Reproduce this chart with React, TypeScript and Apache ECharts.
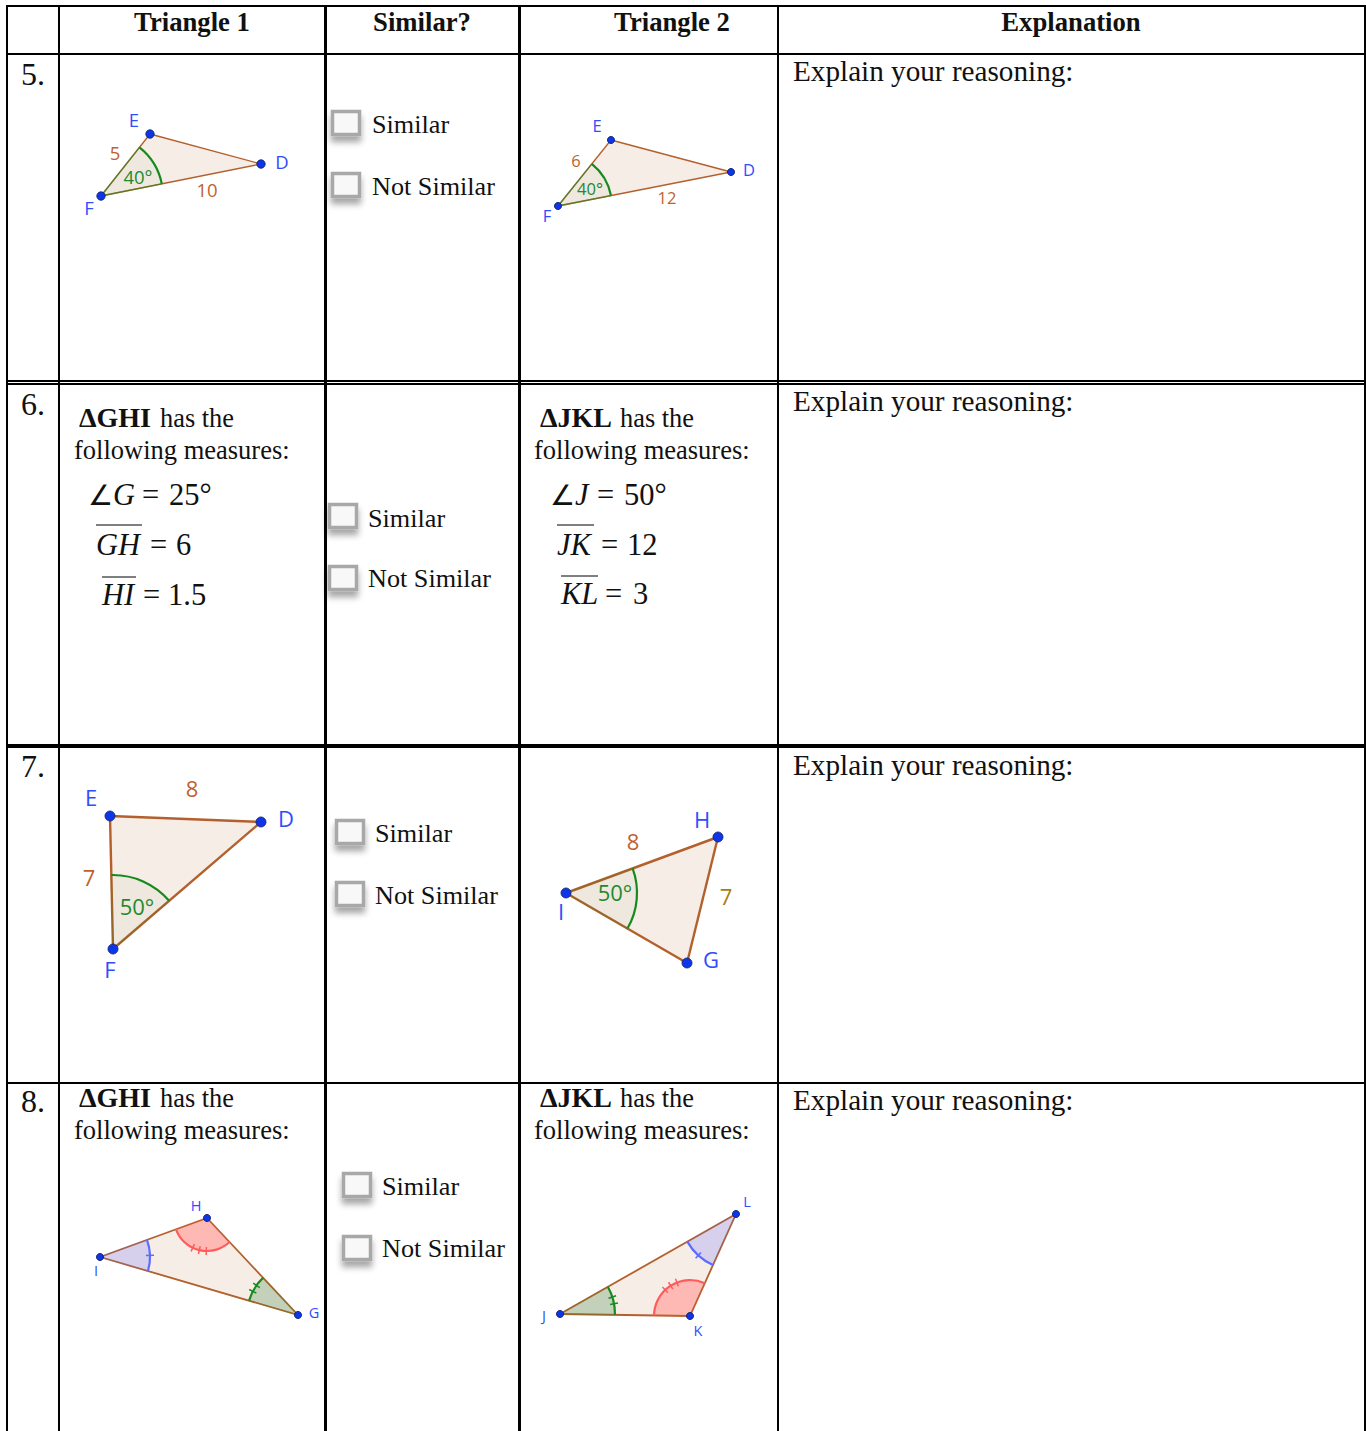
import React, { useEffect, useRef } from "react";
import * as echarts from "echarts";

// ---------- text content ----------
const headerLabels = ["Triangle 1", "Similar?", "Triangle 2", "Explanation"];
const rowNumbers = ["5.", "6.", "7.", "8."];
const explainLabel = "Explain your reasoning:";
const choiceLabels = ["Similar", "Not Similar"];
const measuresLine = "following measures:";
const hasTheLabel = "has the";
const triangleNames = ["ΔGHI", "ΔJKL"];

// ---------- table rules (page pixels used as axis values) ----------
const columnRules = [7, 59, 325.5, 519.5, 778, 1365];
const rowRules = [6, 54, 381, 384, 746, 1083];

// ---------- triangles: [name, x, y] ----------
const tri5a = { v: [[150, 134], [261, 164], [101, 196]], fan: [[2, 0, 1, 62, "plain", 0]], w: 1.3, dot: 4.2, size: 18.5,
  labels: [["E", 134, 119, "b"], ["D", 282, 161, "b"], ["F", 89, 207, "b"], ["5", 115, 152, "o"], ["10", 207, 189, "o"], ["40°", 138, 176, "g"]] };
const tri5b = { v: [[611, 140], [731, 172], [558, 206]], fan: [[2, 0, 1, 54, "plain", 0]], w: 1.3, dot: 3.6, size: 16.5,
  labels: [["E", 597, 125, "b"], ["D", 749, 169, "b"], ["F", 547, 215, "b"], ["6", 576, 160, "o"], ["12", 667, 197, "o"], ["40°", 590, 188, "g"]] };
const tri7a = { v: [[110, 816], [261, 822], [113, 949]], fan: [[2, 0, 1, 74, "plain", 0]], w: 2.4, dot: 5, size: 22,
  labels: [["E", 91, 797, "b"], ["D", 286, 818, "b"], ["F", 110, 969, "b"], ["8", 192, 788, "o"], ["7", 89, 877, "o"], ["50°", 137, 906, "g"]] };
const tri7b = { v: [[566, 893], [718, 837], [687, 963]], fan: [[0, 1, 2, 71, "plain", 0]], w: 2.4, dot: 5, size: 22,
  labels: [["H", 702, 819, "b"], ["I", 561, 911, "b"], ["G", 711, 959, "b"], ["8", 633, 841, "o"], ["7", 726, 896, "y"], ["50°", 615, 892, "g"]] };
const tri8a = { v: [[298, 1315], [207, 1218], [100, 1257]], fan: [[0, 1, 2, 51, "green", 2], [1, 2, 0, 33, "red", 3], [2, 0, 1, 50, "blue", 1]], w: 1.8, dot: 3.6, size: 14.5,
  labels: [["H", 196, 1205, "b"], ["I", 96, 1270, "b"], ["G", 314, 1312, "b"]] };
const tri8b = { v: [[560, 1314], [690, 1316], [736, 1214]], fan: [[0, 1, 2, 55, "green", 2], [1, 2, 0, 36, "red", 3], [2, 0, 1, 56, "blue", 1]], w: 1.8, dot: 3.6, size: 14.5,
  labels: [["L", 747, 1201, "b"], ["J", 544, 1315, "b"], ["K", 698, 1330, "b"]] };
const triangles = [tri5a, tri5b, tri7a, tri7b, tri8a, tri8b];

// ---------- checkbox rows: [box centre x, first box y, gap, label x, first baseline, label gap] ----------
const choiceRows = [
  [346, 123, 62, 372, 133, 62],
  [343, 516, 62, 368, 527, 60],
  [350, 832, 62, 375, 842, 62],
  [357, 1185, 63, 382, 1195, 62],
];

// ---------- math pieces: [text, x, baseline, italic] ----------
const mathGHI = [
  ["∠", 88, 505, 0], ["G", 113, 505, 1], ["=", 142, 505, 0], ["25°", 169, 505, 0],
  ["GH", 96, 555, 1], ["=", 150, 555, 0], ["6", 176, 555, 0],
  ["HI", 102, 605, 1], ["=", 143, 605, 0], ["1.5", 168, 605, 0],
];
const mathJKL = [
  ["∠", 550, 505, 0], ["J", 575, 505, 1], ["=", 597, 505, 0], ["50°", 624, 505, 0],
  ["JK", 557, 555, 1], ["=", 601, 555, 0], ["12", 627, 555, 0],
  ["KL", 561, 604, 1], ["=", 605, 604, 0], ["3", 633, 604, 0],
];
const overbars = [[96, 142, 525], [102, 136, 577], [557, 594, 525], [561, 598, 576]];

// ---------- layout of the text cells ----------
const headerCentres = [192, 422, 672, 1071];
const numberBaselines = [85, 415, 777, 1112];
const explainBaselines = [81, 411, 775, 1110];
const nameCells = [[79, 160, 74, 427, 459, 0], [540, 620, 534, 427, 459, 1], [79, 160, 74, 1107, 1139, 0], [540, 620, 534, 1107, 1139, 1]];

const SERIF = '"Liberation Serif", serif';
const SANS = '"Open Sans", sans-serif';
const INK = "#111111";
const labelColors: any = { b: "#2f4dff", o: "#bf6230", g: "#1f8a2c", y: "#ab7d10" };
const fanStyles: any = {
  plain: { fill: "rgba(0,100,0,0.03)", stroke: "#178a1e" },
  green: { fill: "#c3d1ba", stroke: "#178a1e" },
  red: { fill: "#ffb9b4", stroke: "#ff5b5b" },
  blue: { fill: "#d6d0ec", stroke: "#5b6cff" },
};

function serifText(api: any, text: string, x: number, base: number, size: number, opts: any = {}) {
  const p = api.coord([x, base - 0.3375 * size]);
  return {
    type: "text", x: p[0], y: p[1],
    style: {
      text, fill: INK, align: opts.align || "left", verticalAlign: "middle",
      font: `${opts.italic ? "italic " : ""}${opts.bold ? "bold " : ""}${size}px ${SERIF}`,
    },
  };
}

function renderTextLayer(_: any, api: any) {
  const c: any[] = [];
  headerLabels.forEach((t, i) => c.push(serifText(api, t, headerCentres[i], 31, 26.7, { bold: true, align: "center" })));
  rowNumbers.forEach((t, i) => c.push(serifText(api, t, 21, numberBaselines[i], 32)));
  explainBaselines.forEach((b) => c.push(serifText(api, explainLabel, 793, b, 29.2)));
  nameCells.forEach(([nx, hx, mx, b1, b2, k]) => {
    c.push(serifText(api, triangleNames[k], nx, b1, 28, { bold: true }));
    c.push(serifText(api, hasTheLabel, hx, b1, 26.4));
    c.push(serifText(api, measuresLine, mx, b2, 26.5));
  });
  [...mathGHI, ...mathJKL].forEach(([t, x, b, it]: any) => c.push(serifText(api, t, x, b, t === "∠" ? 28 : 30.5, { italic: !!it })));
  choiceRows.forEach(([, , , lx, b, g]) => {
    choiceLabels.forEach((t, i) => c.push(serifText(api, t, lx, b + i * g, 26.2)));
  });
  return { type: "group", children: c };
}

function renderRules(_: any, api: any) {
  const c: any[] = [];
  const line = (a: number[], b: number[], w: number) => {
    const p = api.coord(a), q = api.coord(b);
    c.push({ type: "line", shape: { x1: p[0], y1: p[1], x2: q[0], y2: q[1] }, style: { stroke: "#000", lineWidth: w } });
  };
  columnRules.forEach((x) => line([x, 5], [x, 1431], x === 325.5 || x === 519.5 ? 3 : 2));
  rowRules.forEach((y) => line([6, y], [1366, y], y === 746 ? 4 : 2));
  overbars.forEach(([a, b, y]) => line([a, y], [b, y], 1.2));
  return { type: "group", children: c };
}

function renderBoxes(_: any, api: any) {
  const c: any[] = [];
  choiceRows.forEach(([x, y, g]) => {
    [0, 1].forEach((i) => {
      const p = api.coord([x - 13.5, y + i * g - 11.5]);
      c.push({
        type: "rect", shape: { x: p[0], y: p[1], width: 27, height: 23 },
        style: { fill: "#f8f8f8", stroke: "#a8a8a8", lineWidth: 3.5, shadowColor: "rgba(0,0,0,0.35)", shadowBlur: 6, shadowOffsetY: 6 },
      });
    });
  });
  return { type: "group", children: c };
}

function renderTriangle(params: any, api: any) {
  const t: any = triangles[params.dataIndex];
  const pts = t.v.map((p: number[]) => api.coord(p));
  const c: any[] = [];
  c.push({ type: "polygon", shape: { points: pts }, style: { fill: "#f6ede7" } });
  t.fan.forEach(([o, a, b, r, kind]: any) => {
    const O = pts[o];
    let a0 = Math.atan2(pts[a][1] - O[1], pts[a][0] - O[0]);
    let a1 = Math.atan2(pts[b][1] - O[1], pts[b][0] - O[0]);
    let d = a1 - a0;
    while (d < 0) d += Math.PI * 2;
    if (d > Math.PI) { a0 = a1; d = Math.PI * 2 - d; }
    c.push({ type: "sector", shape: { cx: O[0], cy: O[1], r, r0: 0, startAngle: a0, endAngle: a0 + d, clockwise: true }, style: { fill: fanStyles[kind].fill } });
  });
  pts.forEach((p: number[], i: number) => {
    const q = pts[(i + 1) % 3];
    c.push({ type: "line", shape: { x1: p[0], y1: p[1], x2: q[0], y2: q[1] }, style: { stroke: "#b3602c", lineWidth: t.w } });
  });
  t.fan.forEach(([o, a, b, r, kind, ticks]: any) => {
    const O = pts[o];
    let a0 = Math.atan2(pts[a][1] - O[1], pts[a][0] - O[0]);
    let a1 = Math.atan2(pts[b][1] - O[1], pts[b][0] - O[0]);
    let d = a1 - a0;
    while (d < 0) d += Math.PI * 2;
    if (d > Math.PI) { a0 = a1; d = Math.PI * 2 - d; }
    const st = fanStyles[kind];
    [a0, a0 + d].forEach((ang) => {
      c.push({
        type: "line",
        shape: { x1: O[0], y1: O[1], x2: O[0] + r * Math.cos(ang), y2: O[1] + r * Math.sin(ang) },
        style: { stroke: st.stroke, lineWidth: 1.4, opacity: t.w < 2 && kind === "plain" ? 0.55 : 0.2 },
      });
    });
    c.push({ type: "arc", shape: { cx: O[0], cy: O[1], r, startAngle: a0, endAngle: a0 + d, clockwise: true }, style: { stroke: st.stroke, fill: "none", lineWidth: 2.2 } });
    for (let i = 0; i < ticks; i++) {
      const ang = a0 + d / 2 + ((i - (ticks - 1) / 2) * 7) / r;
      c.push({
        type: "line",
        shape: { x1: O[0] + (r - 4) * Math.cos(ang), y1: O[1] + (r - 4) * Math.sin(ang), x2: O[0] + (r + 4) * Math.cos(ang), y2: O[1] + (r + 4) * Math.sin(ang) },
        style: { stroke: st.stroke, lineWidth: 1.5 },
      });
    }
  });
  pts.forEach((p: number[]) => {
    c.push({ type: "circle", shape: { cx: p[0], cy: p[1], r: t.dot }, style: { fill: "#0f35e8", stroke: "#0a1f66", lineWidth: 0.8 } });
  });
  t.labels.forEach(([s, x, y, col]: any) => {
    const p = api.coord([x, y]);
    c.push({ type: "text", x: p[0], y: p[1], style: { text: s, fill: labelColors[col], align: "center", verticalAlign: "middle", font: `${t.size}px ${SANS}` } });
  });
  return { type: "group", children: c };
}

export default function App() {
  const ref = useRef<HTMLDivElement>(null);
  useEffect(() => {
    const chart = echarts.init(ref.current!, undefined, { renderer: "svg" });
    const layer = (renderItem: any, data: any[]) => ({
      type: "custom", renderItem, data, clip: false, silent: true,
      coordinateSystem: "cartesian2d", encode: { x: 0, y: 1 },
    });
    chart.setOption({
      animation: false,
      backgroundColor: "#ffffff",
      grid: { left: 0, right: 0, top: 0, bottom: 0 },
      xAxis: { type: "value", min: 0, max: 1366, show: false },
      yAxis: { type: "value", min: 0, max: 1431, inverse: true, show: false },
      series: [
        layer(renderTriangle, triangles.map((t) => t.v[0])),
        layer(renderRules, [[0, 0]]),
        layer(renderBoxes, [[0, 0]]),
        layer(renderTextLayer, [[0, 0]]),
      ],
    });
    return () => chart.dispose();
  }, []);
  return <div ref={ref} style={{ position: "absolute", left: 0, top: 0, width: 1366, height: 1431 }} />;
}
